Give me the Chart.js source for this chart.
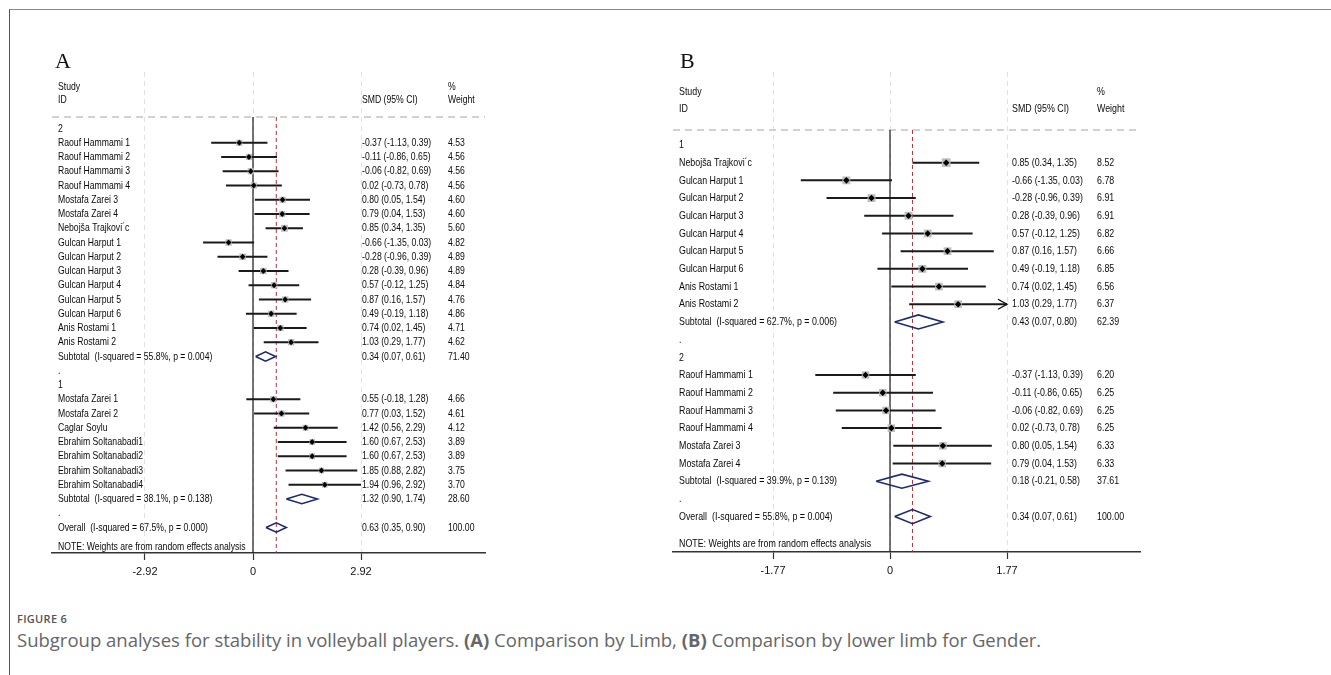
<!DOCTYPE html>
<html>
<head>
<meta charset="utf-8">
<script src="https://cdn.jsdelivr.net/npm/chart.js@4.4.1/dist/chart.umd.min.js"></script>
<style>
  body { margin: 0; background: #fff; width: 1331px; height: 675px; overflow: hidden; position: relative; }
  #frame { position: absolute; left: 9px; top: 9px; width: 1330px; height: 670px; border-left: 1.5px solid #555; border-top: 1.5px solid #888; }
  canvas { position: absolute; top: 0; }
  #forestA { left: 0; }
  #forestB { left: 660px; }
  .fig { position: absolute; left: 17px; top: 612px; font: 600 11px "Open Sans", sans-serif; letter-spacing: 0.3px; color: #555; line-height: 14px; }
  .txt { position: absolute; left: 17px; top: 629px; font: 18.5px "Open Sans", sans-serif; color: #666; line-height: 22px; white-space: nowrap; }
</style>
</head>
<body>
<div id="frame"></div>
<canvas id="forestA" width="660" height="600"></canvas>
<canvas id="forestB" width="671" height="600"></canvas>
<div class="fig">FIGURE 6</div>
<div class="txt">Subgroup analyses for stability in volleyball players. <b>(A)</b> Comparison by Limb, <b>(B)</b> Comparison by lower limb for Gender.</div>

<script>
// ---- panel A: comparison by limb ----
// row types: g = group heading / spacer, s = study, d = pooled (diamond)
const rowsA = ['2', 'Raouf Hammami 1', 'Raouf Hammami 2', 'Raouf Hammami 3', 'Raouf Hammami 4',
  'Mostafa Zarei 3', 'Mostafa Zarei 4', 'Nebojša Trajkovi´c', 'Gulcan Harput 1', 'Gulcan Harput 2',
  'Gulcan Harput 3', 'Gulcan Harput 4', 'Gulcan Harput 5', 'Gulcan Harput 6', 'Anis Rostami 1',
  'Anis Rostami 2', 'Subtotal  (I-squared = 55.8%, p = 0.004)', '.', '1', 'Mostafa Zarei 1',
  'Mostafa Zarei 2', 'Caglar Soylu', 'Ebrahim Soltanabadi1', 'Ebrahim Soltanabadi2',
  'Ebrahim Soltanabadi3', 'Ebrahim Soltanabadi4', 'Subtotal  (I-squared = 38.1%, p = 0.138)', '.',
  'Overall  (I-squared = 67.5%, p = 0.000)'];
const typeA = ['g', 's', 's', 's', 's', 's', 's', 's', 's', 's', 's', 's', 's', 's', 's', 's', 'd',
  'g', 'g', 's', 's', 's', 's', 's', 's', 's', 'd', 'g', 'd'];
const smdA = [null, -0.37, -0.11, -0.06, 0.02, 0.80, 0.79, 0.85, -0.66, -0.28, 0.28, 0.57, 0.87, 0.49,
  0.74, 1.03, 0.34, null, null, 0.55, 0.77, 1.42, 1.60, 1.60, 1.85, 1.94, 1.32, null, 0.63];
const loA = [null, -1.13, -0.86, -0.82, -0.73, 0.05, 0.04, 0.34, -1.35, -0.96, -0.39, -0.12, 0.16, -0.19,
  0.02, 0.29, 0.07, null, null, -0.18, 0.03, 0.56, 0.67, 0.67, 0.88, 0.96, 0.90, null, 0.35];
const hiA = [null, 0.39, 0.65, 0.69, 0.78, 1.54, 1.53, 1.35, 0.03, 0.39, 0.96, 1.25, 1.57, 1.18,
  1.45, 1.77, 0.61, null, null, 1.28, 1.52, 2.29, 2.53, 2.53, 2.82, 2.92, 1.74, null, 0.90];
const weightA = [null, 4.53, 4.56, 4.56, 4.56, 4.60, 4.60, 5.60, 4.82, 4.89, 4.89, 4.84, 4.76, 4.86,
  4.71, 4.62, 71.40, null, null, 4.66, 4.61, 4.12, 3.89, 3.89, 3.75, 3.70, 28.60, null, 100.00];
const ticksA = [-2.92, 0, 2.92];

// ---- panel B: lower limb by gender ----
const rowsB = ['1', 'Nebojša Trajkovi´c', 'Gulcan Harput 1', 'Gulcan Harput 2', 'Gulcan Harput 3',
  'Gulcan Harput 4', 'Gulcan Harput 5', 'Gulcan Harput 6', 'Anis Rostami 1', 'Anis Rostami 2',
  'Subtotal  (I-squared = 62.7%, p = 0.006)', '.', '2', 'Raouf Hammami 1', 'Raouf Hammami 2',
  'Raouf Hammami 3', 'Raouf Hammami 4', 'Mostafa Zarei 3', 'Mostafa Zarei 4',
  'Subtotal  (I-squared = 39.9%, p = 0.139)', '.', 'Overall  (I-squared = 55.8%, p = 0.004)'];
const typeB = ['g', 's', 's', 's', 's', 's', 's', 's', 's', 's', 'd', 'g', 'g', 's', 's', 's', 's',
  's', 's', 'd', 'g', 'd'];
const smdB = [null, 0.85, -0.66, -0.28, 0.28, 0.57, 0.87, 0.49, 0.74, 1.03, 0.43, null, null,
  -0.37, -0.11, -0.06, 0.02, 0.80, 0.79, 0.18, null, 0.34];
const loB = [null, 0.34, -1.35, -0.96, -0.39, -0.12, 0.16, -0.19, 0.02, 0.29, 0.07, null, null,
  -1.13, -0.86, -0.82, -0.73, 0.05, 0.04, -0.21, null, 0.07];
const hiB = [null, 1.35, 0.03, 0.39, 0.96, 1.25, 1.57, 1.18, 1.45, 1.77, 0.80, null, null,
  0.39, 0.65, 0.69, 0.78, 1.54, 1.53, 0.58, null, 0.61];
const weightB = [null, 8.52, 6.78, 6.91, 6.91, 6.82, 6.66, 6.85, 6.56, 6.37, 62.39, null, null,
  6.20, 6.25, 6.25, 6.25, 6.33, 6.33, 37.61, null, 100.00];
const ticksB = [-1.77, 0, 1.77];

const FONT_FAMILY = '"Liberation Sans", Arial, sans-serif';
const FONT_SIZE = 11.5;
const note = 'NOTE: Weights are from random effects analysis';

function fmt(v) { return v.toFixed(2); }

// the original uses a narrow Helvetica; squeeze regular Liberation Sans to match
function narrowText(ctx, text, x, y, squeeze) {
  ctx.save();
  ctx.translate(x, y);
  ctx.scale(squeeze, 1);
  ctx.fillText(text, 0, 0);
  ctx.restore();
}

function tablePlugin(p) {
  return {
    id: 'forestTable',
    afterDatasetsDraw(chart) {
      const ctx = chart.ctx;
      const area = chart.chartArea;
      const xs = chart.scales.x, ys = chart.scales.y;
      const sq = p.squeeze;
      ctx.save();
      // panel letter
      ctx.fillStyle = '#111';
      ctx.font = '22px "Liberation Serif", "Times New Roman", serif';
      ctx.textBaseline = 'alphabetic';
      ctx.fillText(p.letter, area.left + p.letterDx, area.top - 4);

      ctx.font = FONT_SIZE + 'px ' + FONT_FAMILY;
      ctx.fillStyle = '#0a0a0a';
      ctx.textBaseline = 'middle';
      const colLabel = area.left + 6, colSmd = area.left + p.smdDx, colW = area.left + p.wDx;
      const yStudy = ys.getPixelForValue(p.headRows[0]), yId = ys.getPixelForValue(p.headRows[1]);
      narrowText(ctx, 'Study', colLabel, yStudy, sq);
      narrowText(ctx, 'ID', colLabel, yId, sq);
      narrowText(ctx, 'SMD (95% CI)', colSmd, yId, sq);
      narrowText(ctx, '%', colW, yStudy, sq);
      narrowText(ctx, 'Weight', colW, yId, sq);

      p.rows.forEach((label, i) => {
        const y = ys.getPixelForValue(i);
        narrowText(ctx, label, colLabel, y, sq);
        if (p.smd[i] !== null) {
          narrowText(ctx, fmt(p.smd[i]) + ' (' + fmt(p.lo[i]) + ', ' + fmt(p.hi[i]) + ')', colSmd, y, sq);
          narrowText(ctx, fmt(p.weight[i]), colW, y, sq);
        }
        // arrow where the interval runs past the plotted range
        if (p.arrowAt !== null && p.type[i] === 's' && p.hi[i] >= p.arrowAt) {
          const x = xs.getPixelForValue(p.hi[i]);
          ctx.strokeStyle = '#111';
          ctx.lineWidth = 1.4;
          ctx.beginPath();
          ctx.moveTo(x - 9, y - 5);
          ctx.lineTo(x, y);
          ctx.lineTo(x - 9, y + 5);
          ctx.stroke();
        }
      });
      narrowText(ctx, note, colLabel, ys.getPixelForValue(p.noteRow), sq);
      ctx.restore();
    }
  };
}

function buildForest(id, p) {
  const studies = [], pooled = [];
  p.type.forEach((t, i) => { if (t === 's') studies.push(i); if (t === 'd') pooled.push(i); });
  const overall = pooled[pooled.length - 1];

  const ci = [];
  studies.forEach(i => ci.push({ x: p.lo[i], y: i }, { x: p.hi[i], y: i }, { x: null, y: null }));
  const boxes = studies.map(i => ({ x: p.smd[i], y: i }));
  const boxRadius = studies.map(i => p.boxScale * Math.sqrt(p.weight[i]) / Math.SQRT2);
  const diamonds = [];
  pooled.forEach(i => diamonds.push(
    { x: p.lo[i], y: i }, { x: p.smd[i], y: i - p.dh }, { x: p.hi[i], y: i },
    { x: p.smd[i], y: i + p.dh }, { x: p.lo[i], y: i }, { x: null, y: null }));

  const line = (data, color, width, dash, order) => ({
    data, borderColor: color, borderWidth: width, borderDash: dash, showLine: true,
    pointRadius: 0, tension: 0, fill: false, order
  });

  return new Chart(document.getElementById(id), {
    type: 'scatter',
    data: {
      datasets: [
        { data: boxes, pointStyle: 'rectRot', pointRadius: p.dotR, backgroundColor: '#000', borderWidth: 0, order: 0 },
        { data: boxes, pointStyle: 'rect', pointRadius: boxRadius, backgroundColor: '#bdbdbd', borderWidth: 0, order: 1 },
        line(ci, '#1a1a1a', p.ciWidth, [], 2),
        line(diamonds, '#1c2a6e', 1.6, [], 2),
        line([{ x: p.smd[overall], y: p.headRows[2] }, { x: p.smd[overall], y: p.yMax }], '#a8343f', 1, [4, 3], 4),
        line([{ x: 0, y: p.headRows[2] }, { x: 0, y: p.yMax }], '#1a1a1a', 1.2, [], 5),
        line([{ x: p.xMin, y: p.headRows[2] }, { x: p.xMax, y: p.headRows[2] }], '#c4c4c4', 1.5, [7, 5], 6)
      ]
    },
    options: {
      responsive: false,
      animation: false,
      events: [],
      layout: { padding: p.padding },
      plugins: { legend: { display: false }, tooltip: { enabled: false } },
      scales: {
        x: {
          type: 'linear', min: p.xMin, max: p.xMax,
          afterBuildTicks: s => { s.ticks = p.ticks.map(v => ({ value: v })); },
          afterFit: s => { s.height = 40; },
          grid: { color: '#e2e2e2', lineWidth: 1, tickColor: '#333', tickLength: 7, tickWidth: 1.2 },
          border: { display: true, color: '#333', width: 1.5, dash: [5, 4] },
          ticks: {
            autoSkip: false, maxRotation: 0, padding: 5, color: '#111',
            font: { family: FONT_FAMILY, size: 11 },
            callback: v => (v === 0 ? '0' : v.toFixed(2))
          }
        },
        y: { type: 'linear', reverse: true, min: p.yMin, max: p.yMax, display: false }
      }
    },
    plugins: [tablePlugin(p)]
  });
}

buildForest('forestA', {
  rows: rowsA, type: typeA, smd: smdA, lo: loA, hi: hiA, weight: weightA, ticks: ticksA,
  letter: 'A', letterDx: 3, smdDx: 310, wDx: 396, squeeze: 0.752,
  xMin: -5.434, xMax: 6.272, yMin: -3.965, yMax: 29.79,
  headRows: [-2.91, -2.0, -0.81], noteRow: 29.37,
  padding: { left: 52, right: 175, top: 72, bottom: 7 },
  dh: 0.33, boxScale: 2.9, dotR: 2.9, ciWidth: 1.8, arrowAt: null
});

buildForest('forestB', {
  rows: rowsB, type: typeB, smd: smdB, lo: loB, hi: hiB, weight: weightB, ticks: ticksB,
  letter: 'B', letterDx: 7, smdDx: 339, wDx: 424, squeeze: 0.77,
  xMin: -3.283, xMax: 3.782, yMin: -4.124, yMax: 23.0,
  headRows: [-2.99, -2.03, -0.85], noteRow: 22.54,
  padding: { left: 13, right: 191, top: 72, bottom: 8 },
  dh: 0.4, boxScale: 3.0, dotR: 3.3, ciWidth: 2, arrowAt: 1.77
});
</script>
</body>
</html>
